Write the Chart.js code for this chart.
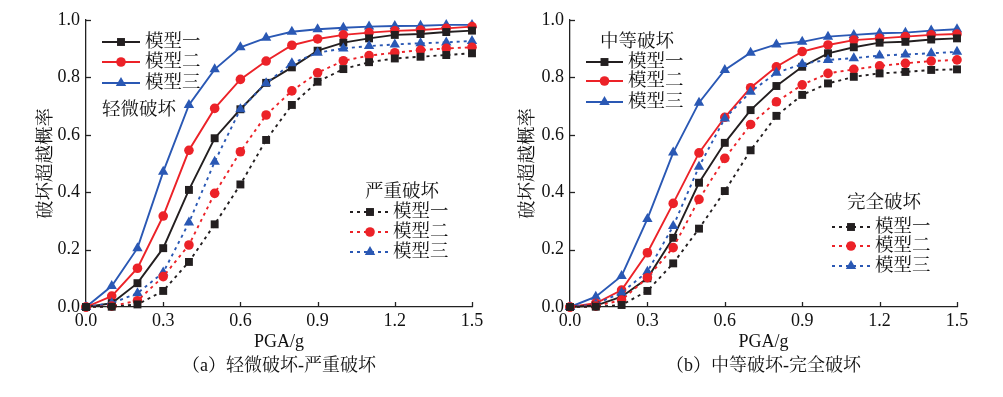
<!DOCTYPE html>
<html><head><meta charset="utf-8">
<script src="https://cdn.jsdelivr.net/npm/chart.js@4.4.1/dist/chart.umd.min.js"></script>
<style>
html,body{margin:0;padding:0;background:#fff;width:1003px;height:397px;overflow:hidden}
#wa{position:absolute;left:0;top:0;width:490px;height:397px}
#wb{position:absolute;left:490px;top:0;width:513px;height:397px}
</style></head><body>
<div id="wa"><canvas id="ca"></canvas></div>
<div id="wb"><canvas id="cb"></canvas></div>
<script>
// ---------- data ----------
const pga = [0,0.1,0.2,0.3,0.4,0.5,0.6,0.7,0.8,0.9,1.0,1.1,1.2,1.3,1.4,1.5];
const xTicks = [0,0.3,0.6,0.9,1.2,1.5];
const yTicks = [0,0.2,0.4,0.6,0.8,1.0];
const modelNames = ['模型一','模型二','模型三'];
const stateSlight = '轻微破坏', stateSevere = '严重破坏', stateModerate = '中等破坏', stateComplete = '完全破坏';
const xTitle = 'PGA/g';
const yTitle = '破坏超越概率';
const captionA = '（a）轻微破坏-严重破坏';
const captionB = '（b）中等破坏-完全破坏';

const slight1 = [0,0.013,0.083,0.205,0.408,0.588,0.689,0.781,0.835,0.893,0.921,0.936,0.948,0.951,0.958,0.963];
const slight2 = [0,0.038,0.135,0.317,0.546,0.692,0.793,0.857,0.912,0.934,0.948,0.956,0.962,0.965,0.971,0.977];
const slight3 = [0,0.073,0.205,0.471,0.704,0.828,0.905,0.938,0.959,0.968,0.973,0.977,0.979,0.980,0.983,0.983];

const severe1 = [0,0.001,0.009,0.056,0.157,0.288,0.427,0.582,0.704,0.785,0.829,0.853,0.866,0.872,0.878,0.884];
const severe2 = [0,0.003,0.022,0.106,0.216,0.396,0.541,0.669,0.753,0.816,0.858,0.876,0.886,0.895,0.901,0.905];
const severe3 = [0,0.013,0.048,0.120,0.294,0.506,0.689,0.780,0.849,0.886,0.901,0.909,0.915,0.919,0.922,0.927];

const moderate1 = [0,0.005,0.036,0.100,0.241,0.433,0.572,0.686,0.770,0.837,0.884,0.905,0.921,0.924,0.932,0.936];
const moderate2 = [0,0.013,0.059,0.189,0.361,0.537,0.661,0.764,0.837,0.890,0.913,0.930,0.936,0.942,0.948,0.951];
const moderate3 = [0,0.036,0.108,0.307,0.538,0.712,0.826,0.886,0.915,0.924,0.942,0.948,0.954,0.956,0.963,0.968];

const complete1 = [0,0.001,0.007,0.056,0.152,0.273,0.404,0.546,0.666,0.739,0.779,0.802,0.814,0.819,0.826,0.828];
const complete2 = [0,0.003,0.024,0.102,0.207,0.375,0.518,0.636,0.715,0.774,0.814,0.828,0.840,0.849,0.857,0.861];
const complete3 = [0,0.010,0.050,0.123,0.282,0.489,0.657,0.750,0.816,0.847,0.861,0.867,0.876,0.880,0.884,0.889];

// ---------- styles ----------
const COLORS = ['#231f20','#ec2228','#2a58b4'];
const STYLES = ['rect','circle','triangle'];
const RADII = [5.6,4.8,6.0];
const DASH = [3,4];
const NUM_FONT = "'Liberation Serif','Times New Roman',serif";
const CJK_FONT = "'Liberation Serif','Noto Serif CJK SC','Noto Sans CJK SC',serif";

function pts(arr){ return pga.map((x,i)=>({x:x,y:arr[i]})); }
function ds(arr, m, dashed, label){
  return {
    label: label, data: pts(arr),
    borderColor: COLORS[m], backgroundColor: COLORS[m],
    pointBackgroundColor: COLORS[m], pointBorderColor: COLORS[m],
    pointStyle: STYLES[m], pointRadius: RADII[m], pointBorderWidth: 0,
    borderWidth: 1.9, borderDash: dashed ? DASH : [], tension: 0, clip: false,
    _m: m, _dashed: dashed
  };
}

const inwardTicks = {
  id: 'inwardTicks',
  beforeDatasetsDraw(chart){
    const ctx = chart.ctx, xs = chart.scales.x, ys = chart.scales.y, a = chart.chartArea;
    ctx.save(); ctx.strokeStyle = '#222'; ctx.lineWidth = 1.3;
    xTicks.forEach(v=>{ const p = Math.round(xs.getPixelForValue(v))+0.5; ctx.beginPath(); ctx.moveTo(p,a.bottom); ctx.lineTo(p,a.bottom-5); ctx.stroke(); });
    yTicks.forEach(v=>{ const p = Math.round(ys.getPixelForValue(v))+0.5; ctx.beginPath(); ctx.moveTo(a.left,p); ctx.lineTo(a.left+5,p); ctx.stroke(); });
    ctx.restore();
  }
};

function drawMarker(ctx, m, x, y){
  if (Chart.helpers && Chart.helpers.drawPoint) {
    ctx.fillStyle = COLORS[m]; ctx.strokeStyle = COLORS[m]; ctx.lineWidth = 0.01;
    Chart.helpers.drawPoint(ctx, {pointStyle: STYLES[m], radius: RADII[m], rotation: 0, borderWidth: 0}, x, y);
  }
}

const groupLegend = {
  id: 'groupLegend',
  afterDraw(chart, args, opts){
    const ctx = chart.ctx;
    (opts.groups||[]).forEach(g=>{
      ctx.save();
      ctx.font = '18.5px ' + CJK_FONT; ctx.fillStyle = '#111'; ctx.textBaseline = 'middle'; ctx.textAlign = 'left';
      ctx.fillText(g.title, g.titleX, g.titleY);
      g.rows.forEach((ry, i)=>{
        const dset = chart.data.datasets[g.datasets[i]];
        const m = dset._m;
        ctx.save();
        ctx.strokeStyle = COLORS[m]; ctx.lineWidth = 1.9;
        ctx.setLineDash(dset._dashed ? DASH : []);
        ctx.beginPath(); ctx.moveTo(g.lineX0, ry); ctx.lineTo(g.lineX1, ry); ctx.stroke();
        ctx.setLineDash([]);
        drawMarker(ctx, m, (g.lineX0+g.lineX1)/2, ry);
        ctx.restore();
        ctx.font = '18.5px ' + CJK_FONT; ctx.fillStyle = '#111'; ctx.textBaseline = 'middle';
        ctx.fillText(dset.label, g.textX, ry);
      });
      ctx.restore();
    });
  }
};

function makeChart(id, datasets, yW, padRight, yTitlePad, caption, groups){
  return new Chart(document.getElementById(id), {
    type: 'line',
    data: { datasets: datasets },
    options: {
      responsive: true, maintainAspectRatio: false, animation: false,
      layout: { padding: { left: 0, right: padRight, top: 20, bottom: 0 } },
      plugins: { legend: { display: false }, tooltip: { enabled: false }, groupLegend: { groups: groups } },
      scales: {
        x: {
          type: 'linear', min: 0, max: 1.5,
          afterBuildTicks(s){ s.ticks = xTicks.map(v=>({value:v})); },
          afterFit(s){ s.height = 90; },
          grid: { display: false, drawTicks: false },
          border: { display: true, color: '#222', width: 1.3 },
          ticks: { color: '#111', font: { family: NUM_FONT, size: 18 }, padding: 3, maxRotation: 0, autoSkip: false,
                   callback: v => Number(v).toFixed(1) },
          title: { display: true, text: [xTitle, caption], color: '#111',
                   font: { family: CJK_FONT, size: 18, lineHeight: '24px' }, padding: { top: 0, bottom: 19 } }
        },
        y: {
          type: 'linear', min: 0, max: 1,
          afterBuildTicks(s){ s.ticks = yTicks.map(v=>({value:v})); },
          afterFit(s){ s.width = yW; },
          grid: { display: false, drawTicks: false },
          border: { display: true, color: '#222', width: 1.3 },
          ticks: { color: '#111', font: { family: NUM_FONT, size: 18 }, padding: 6, autoSkip: false,
                   callback: v => Number(v).toFixed(1) },
          title: { display: true, text: yTitle, color: '#111',
                   font: { family: CJK_FONT, size: 18.5, lineHeight: 1.2 }, padding: { top: 35, bottom: 0 } }
        }
      }
    },
    plugins: [inwardTicks, groupLegend]
  });
}

const chartA = makeChart('ca', [
  ds(severe1,0,true,modelNames[0]), ds(severe2,1,true,modelNames[1]), ds(severe3,2,true,modelNames[2]),
  ds(slight1,0,false,modelNames[0]), ds(slight2,1,false,modelNames[1]), ds(slight3,2,false,modelNames[2])
], 86, 18, 35, captionA, [
  { title: stateSlight, titleX: 102, titleY: 110, rows: [42,62,83], datasets: [3,4,5], lineX0: 102, lineX1: 140, textX: 145 },
  { title: stateSevere, titleX: 365, titleY: 192, rows: [212,232,252], datasets: [0,1,2], lineX0: 350, lineX1: 390, textX: 393 }
]);
chartA.options.scales.y.title.padding = { top: 35, bottom: 0 };

const chartB = makeChart('cb', [
  ds(complete1,0,true,modelNames[0]), ds(complete2,1,true,modelNames[1]), ds(complete3,2,true,modelNames[2]),
  ds(moderate1,0,false,modelNames[0]), ds(moderate2,1,false,modelNames[1]), ds(moderate3,2,false,modelNames[2])
], 80, 46, 27, captionB, [
  { title: stateModerate, titleX: 110, titleY: 42, rows: [62,81,102], datasets: [3,4,5], lineX0: 96, lineX1: 133, textX: 138 },
  { title: stateComplete, titleX: 357, titleY: 203, rows: [227,246,266], datasets: [0,1,2], lineX0: 342, lineX1: 380, textX: 385 }
]);
chartB.options.scales.y.title.padding = { top: 27, bottom: 0 };
chartB.update();
</script>
</body></html>
